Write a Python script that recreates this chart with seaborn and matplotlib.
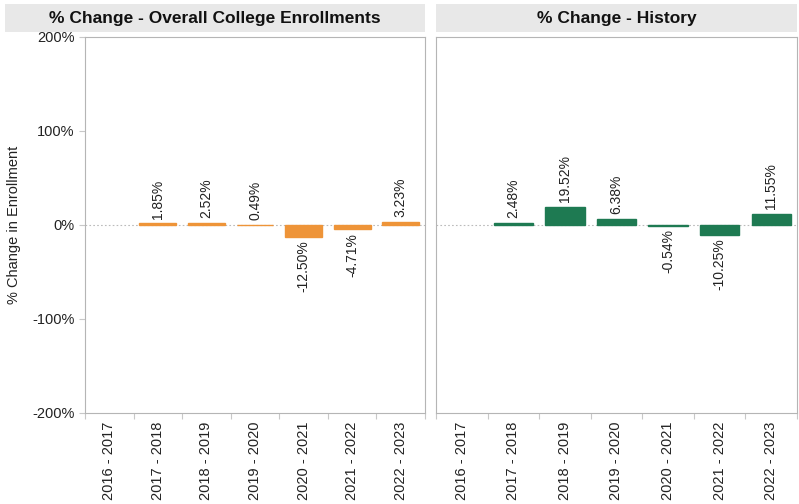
import matplotlib
matplotlib.use("Agg")
import matplotlib.pyplot as plt
import numpy as np
import pandas as pd
import seaborn as sns
from matplotlib.patches import Rectangle
from matplotlib.ticker import FuncFormatter, FixedLocator

YEARS = ["2016 - 2017", "2017 - 2018", "2018 - 2019", "2019 - 2020",
         "2020 - 2021", "2021 - 2022", "2022 - 2023"]
OVERALL = [np.nan, 1.85, 2.52, 0.49, -12.50, -4.71, 3.23]
HISTORY = [np.nan, 2.48, 19.52, 6.38, -0.54, -10.25, 11.55]
TITLES = ["% Change - Overall College Enrollments", "% Change - History"]
COLORS = ["#EE9438", "#1E7A52"]
Y_TICKS = [-200, -100, 0, 100, 200]

sns.set_style("white")
plt.rcParams["font.family"] = ["Liberation Sans", "DejaVu Sans"]

fig = plt.figure(figsize=(7.99, 5.04), dpi=100)
W, H = 799, 504


def px_axes(x0, y0, x1, y1):
    return fig.add_axes([x0 / W, 1 - y1 / H, (x1 - x0) / W, (y1 - y0) / H])


panels = [
    (px_axes(85, 37, 425, 413), OVERALL, TITLES[0], COLORS[0], (5, 425)),
    (px_axes(436, 37, 797, 413), HISTORY, TITLES[1], COLORS[1], (436, 797)),
]

for i, (ax, vals, title, color, (bx0, bx1)) in enumerate(panels):
    df = pd.DataFrame({"year": YEARS, "pct": vals})
    sns.barplot(data=df, x="year", y="pct", order=YEARS, color=color,
                saturation=1, width=0.76, ax=ax, errorbar=None,
                edgecolor=color, linewidth=1.0)
    ax.set_ylim(-200, 200)
    ax.set_xlim(-0.5, len(YEARS) - 0.5)
    ax.axhline(0, color="#bbbbbb", lw=0.8, ls=(0, (1.5, 2)), zorder=0)

    for j, v in enumerate(vals):
        if np.isnan(v):
            continue
        if v >= 0:
            ax.text(j, v + 5, f"{v:.2f}%", rotation=90, ha="center", va="bottom",
                    fontsize=10, color="#222222")
        else:
            ax.text(j, v - 4, f"{v:.2f}%", rotation=90, ha="center", va="top",
                    fontsize=10, color="#222222")

    ax.set_xlabel("")
    ax.set_ylabel("")
    ax.set_xticks(range(len(YEARS)))
    ax.set_xticklabels(YEARS, rotation=90, fontsize=10.5, color="#222222")
    ax.tick_params(axis="x", which="major", length=0, pad=6)
    ax.xaxis.set_minor_locator(FixedLocator(np.arange(-0.5, len(YEARS), 1.0)))
    ax.tick_params(axis="x", which="minor", length=4, width=0.8,
                   color="#c8c8c8", bottom=True)

    for s in ax.spines.values():
        s.set_color("#b5b5b5")
        s.set_linewidth(0.8)

    ax.set_yticks(Y_TICKS)
    if i == 0:
        ax.yaxis.set_major_formatter(FuncFormatter(lambda v, _: f"{v:.0f}%"))
        ax.tick_params(axis="y", length=4, width=0.8, color="#c8c8c8", left=True,
                       labelsize=10.5, labelcolor="#222222")
        ax.set_ylabel("% Change in Enrollment", fontsize=10.5, color="#222222",
                      labelpad=8)
    else:
        ax.tick_params(axis="y", left=False, labelleft=False)

    # grey title banner above each panel
    fig.patches.append(Rectangle((bx0 / W, 1 - 32 / H), (bx1 - bx0) / W, 28 / H,
                                 transform=fig.transFigure, facecolor="#e8e8e8",
                                 edgecolor="none", zorder=0))
    fig.text((bx0 + bx1) / 2 / W, 1 - 18 / H, title, ha="center", va="center",
             fontsize=12.5, fontweight="bold", color="#111111")

fig.savefig("out.png", dpi=100)
